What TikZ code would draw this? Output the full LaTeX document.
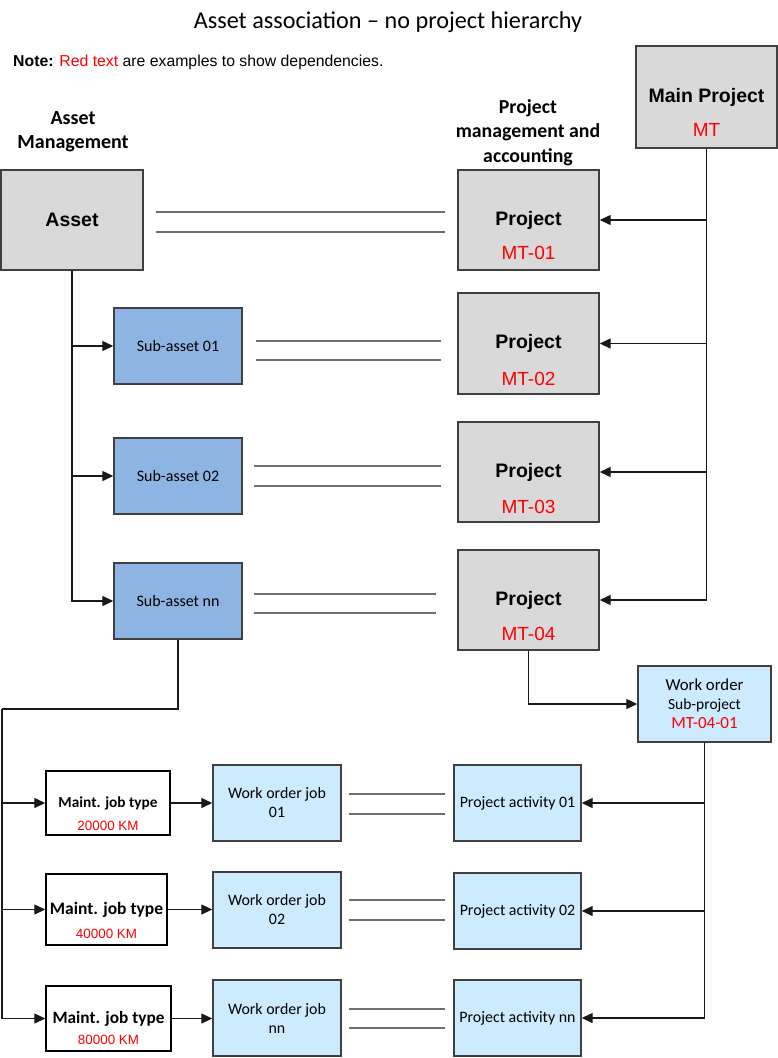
\documentclass[tikz,border=0pt]{standalone}
\usepackage{fontspec}
\setmainfont{Carlito}
\newfontfamily\arialf{Liberation Sans}
\usetikzlibrary{arrows.meta,calc}
\definecolor{grayfill}{HTML}{D9D9D9}
\definecolor{subfill}{HTML}{8EB4E3}
\definecolor{lightblue}{HTML}{CCEBFF}
\definecolor{boxline}{HTML}{404040}
\definecolor{dblgray}{HTML}{6E6E6E}
\definecolor{redtxt}{HTML}{FF0000}
\tikzset{
  box/.style={draw=boxline, line width=1.4pt, inner sep=0pt, align=center},
  graybox/.style={box, fill=grayfill},
  subbox/.style={box, fill=subfill, font=\fontsize{16}{19}\selectfont},
  bluebox/.style={box, fill=lightblue, font=\fontsize{15.9}{19}\selectfont},
  whitebox/.style={box, draw=black, fill=white},
  projtxt/.style={font=\arialf\bfseries\fontsize{19.5}{23}\selectfont},
  redlbl/.style={text=redtxt, inner sep=0pt, font=\arialf\fontsize{19}{23}\selectfont},
  redsmall/.style={text=redtxt, inner sep=0pt, font=\arialf\fontsize{13.4}{16}\selectfont},
  heading/.style={align=center, inner sep=0pt, font=\bfseries},
  dbl/.style={draw=dblgray, line width=1.6pt},
  conn/.style={draw=black!90, line width=1.3pt},
  arr/.style={conn, -{Triangle[length=11pt,width=10pt]}}
}
\begin{document}
\begin{tikzpicture}[x=1pt,y=-1pt]
\useasboundingbox (0,0) rectangle (778,1058);
% title and note
\node[inner sep=0pt, font=\fontsize{24.2}{28}\selectfont] (title) at (388,22) {Asset association -- no project hierarchy};
\node[anchor=west, inner sep=0pt, font=\arialf\fontsize{15.8}{18}\selectfont] (note) at (13,62)
  {\textbf{Note:} {\color{redtxt}Red text} are examples to show dependencies.};
% headings
\node[heading, font=\bfseries\fontsize{20}{24}\selectfont] (hasset) at (73,132) {Asset\\Management};
\node[heading, font=\bfseries\fontsize{19.8}{24.5}\selectfont] (hproj) at (528,132.5) {Project\\management and\\accounting};
% top boxes
\node[graybox, minimum width=142, minimum height=100, projtxt] (asset) at (72,220) {Asset};
\node[graybox, minimum width=141, minimum height=102, projtxt] (main) at (706.5,97) {\raisebox{-2pt}{Main Project}};
\node[redlbl] (mainr) at ($(main.center)+(0,33)$) {MT};
\node[graybox, minimum width=141, minimum height=100, projtxt] (p1) at (528.5,220) {Project};
\node[graybox, minimum width=141, minimum height=101, projtxt] (p2) at (528.5,343.5) {Project};
\node[graybox, minimum width=141, minimum height=100, projtxt] (p3) at (528.5,472) {Project};
\node[graybox, minimum width=141, minimum height=100, projtxt] (p4) at (528.5,600) {Project};
\node[redlbl] (p1r) at ($(p1.center)+(0,33)$) {MT-01};
\node[redlbl] (p2r) at ($(p2.center)+(0,35)$) {MT-02};
\node[redlbl] (p3r) at ($(p3.center)+(0,35)$) {MT-03};
\node[redlbl] (p4r) at ($(p4.center)+(0,34)$) {MT-04};
% sub-assets
\node[subbox, minimum width=128, minimum height=76] (sa1) at (178,346) {Sub-asset 01};
\node[subbox, minimum width=128, minimum height=76] (sa2) at (178,476) {Sub-asset 02};
\node[subbox, minimum width=128, minimum height=76] (sa3) at (178,601) {Sub-asset nn};
% work order
\node[bluebox, minimum width=133, minimum height=76] (wo) at (704.5,704)
  {{\fontsize{16.8}{23}\selectfont Work order}\\{\fontsize{15.5}{23}\selectfont Sub-project}\\{\fontsize{17}{23}\selectfont\color{redtxt}MT-04-01}};
% project activities
\node[bluebox, minimum width=127, minimum height=76] (pa1) at (517.5,803) {Project activity 01};
\node[bluebox, minimum width=127, minimum height=76] (pa2) at (517.5,911) {Project activity 02};
\node[bluebox, minimum width=127, minimum height=76] (pa3) at (517.5,1018) {Project activity nn};
% work order jobs
\node[bluebox, minimum width=128, minimum height=76] (woj1) at (277,803) {Work order job\\01};
\node[bluebox, minimum width=128, minimum height=76] (woj2) at (277,910) {Work order job\\02};
\node[bluebox, minimum width=128, minimum height=76] (woj3) at (277,1018) {Work order job\\nn};
% maintenance job types
\node[whitebox, minimum width=124, minimum height=64, font=\bfseries\fontsize{15.3}{18}\selectfont] (mj1) at (108,803) {Maint. job type};
\node[whitebox, minimum width=121, minimum height=71, font=\bfseries\fontsize{17.5}{20}\selectfont] (mj2) at (106.5,909.5) {Maint. job type};
\node[whitebox, minimum width=125, minimum height=65, font=\bfseries\fontsize{17.3}{20}\selectfont] (mj3) at (108.5,1018.5) {Maint. job type};
\node[redsmall] (mj1r) at ($(mj1.center)+(0,23)$) {20000 KM};
\node[redsmall] (mj2r) at ($(mj2.center)+(0,24)$) {40000 KM};
\node[redsmall] (mj3r) at ($(mj3.center)+(0,21.5)$) {80000 KM};
% double association lines
\draw[dbl] ($(asset.east)+(12,-8)$) -- ($(p1.west)+(-12,-8)$);
\draw[dbl] ($(asset.east)+(12,12)$) -- ($(p1.west)+(-12,12)$);
\draw[dbl] ($(sa1.east)+(13,-5)$) -- ($(p2.west |- sa1.east)+(-16,-5)$);
\draw[dbl] ($(sa1.east)+(13,14)$) -- ($(p2.west |- sa1.east)+(-16,14)$);
\draw[dbl] ($(sa2.east)+(11,-10)$) -- ($(p3.west |- sa2.east)+(-16,-10)$);
\draw[dbl] ($(sa2.east)+(11,10)$) -- ($(p3.west |- sa2.east)+(-16,10)$);
\draw[dbl] ($(sa3.east)+(11,-7)$) -- ($(p4.west |- sa3.east)+(-21,-7)$);
\draw[dbl] ($(sa3.east)+(11,12)$) -- ($(p4.west |- sa3.east)+(-21,12)$);
\draw[dbl] ($(woj1.east)+(7,-9)$) -- ($(pa1.west)+(-8,-9)$);
\draw[dbl] ($(woj1.east)+(7,11)$) -- ($(pa1.west)+(-8,11)$);
\draw[dbl] ($(woj2.east)+(7,-10)$) -- ($(pa2.west |- woj2.east)+(-8,-10)$);
\draw[dbl] ($(woj2.east)+(7,10)$) -- ($(pa2.west |- woj2.east)+(-8,10)$);
\draw[dbl] ($(woj3.east)+(7,-9)$) -- ($(pa3.west)+(-8,-9)$);
\draw[dbl] ($(woj3.east)+(7,10)$) -- ($(pa3.west)+(-8,10)$);
% asset tree
\draw[arr] (asset.south) |- (sa3.west);
\draw[arr] (asset.south |- sa1.west) -- (sa1.west);
\draw[arr] (asset.south |- sa2.west) -- (sa2.west);
% main project tree
\draw[arr] (main.south) |- (p4.east);
\draw[arr] (main.south |- p1.east) -- (p1.east);
\draw[arr] (main.south |- p2.east) -- (p2.east);
\draw[arr] (main.south |- p3.east) -- (p3.east);
% project 4 to work order
\draw[arr] (p4.south) |- (wo.west);
% work order tree
\draw[arr] (wo.south) |- (pa3.east);
\draw[arr] (wo.south |- pa1.east) -- (pa1.east);
\draw[arr] (wo.south |- pa2.east) -- (pa2.east);
% sub-asset nn to maintenance job types
\coordinate (bend) at (2,709);
\draw[conn] (sa3.south) |- (bend);
\draw[arr] (bend) |- (mj3.west);
\draw[arr] (bend |- mj1.west) -- (mj1.west);
\draw[arr] (bend |- mj2.west) -- (mj2.west);
% maintenance to work order jobs
\draw[arr] (mj1.east) -- (woj1.west);
\draw[arr] (mj2.east) -- (woj2.west |- mj2.east);
\draw[arr] (mj3.east) -- (woj3.west |- mj3.east);
\end{tikzpicture}
\end{document}
